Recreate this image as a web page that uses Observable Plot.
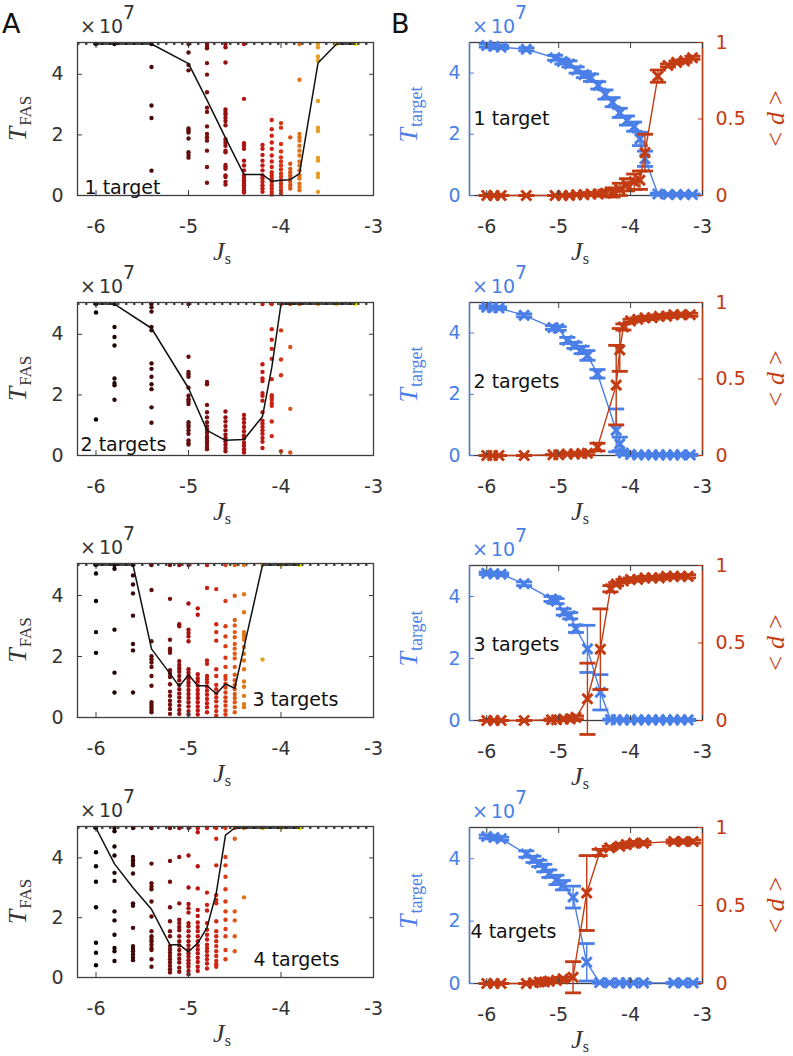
<!DOCTYPE html>
<html>
<head>
<meta charset="utf-8">
<script src="https://cdn.jsdelivr.net/npm/d3@7"></script>
<script src="https://cdn.jsdelivr.net/npm/@observablehq/plot@0.6"></script>
<style>
  html, body { margin: 0; padding: 0; background: #fff; }
  #fig { position: relative; width: 793px; height: 1056px; overflow: hidden; background: #fff; }
  #fig svg { position: absolute; overflow: visible; }
</style>
</head>
<body>
<div id="fig"></div>
<script>
// ---------------- DATA ----------------
const xTicks = [-6, -5, -4, -3];
const yTicks = [0, 2, 4];
const dTicks = [0, 0.5, 1];
const capT = 5; // simulation cap (x 10^7)

// Panel A, 1 target
const a1_J = [-6, -5.8, -5.4, -5, -4.8, -4.6, -4.4, -4.2, -4.1, -4.0, -3.9, -3.8, -3.6, -3.4, -3.2];
const a1_mean = [5, 5, 5, 4.35, 3.15, 1.9, 0.69, 0.69, 0.47, 0.5, 0.52, 0.72, 4.37, 5, 5];
const a1_dots = [
  [5], [5],
  [5, 4.24, 2.97, 2.56, 0.82],
  [5, 4.72, 4.31, 4.13, 2.21, 2.15, 2.08, 1.88, 1.43, 1.34, 1.25],
  [5, 4.91, 4.86, 4.37, 3.99, 3.41, 2.9, 2.76, 2.28, 2.03, 1.92, 1.81, 1.48, 0.94, 0.42],
  [5, 4.89, 4.39, 2.84, 2.76, 2.68, 2.57, 2.46, 2.32, 1.86, 1.75, 1.64, 1.48, 1.43, 1.01, 0.94, 0.88, 0.66, 0.61, 0.45, 0.36],
  [5, 3.19, 1.73, 1.64, 1.54, 1.15, 0.99, 0.83, 0.66, 0.58, 0.5, 0.42, 0.34, 0.25, 0.17, 0.1],
  [1.67, 1.54, 1.34, 1.15, 0.99, 0.83, 0.66, 0.56, 0.45, 0.34, 0.23, 0.12],
  [2.49, 2.19, 1.97, 1.75, 1.54, 1.32, 1.12, 0.94, 0.77, 0.66, 0.56, 0.45, 0.34, 0.23, 0.12, 0.03],
  [2.39, 2.24, 1.7, 1.45, 1.26, 1.12, 0.99, 0.86, 0.72, 0.61, 0.5, 0.39, 0.28, 0.17, 0.07],
  [1.92, 1.05, 0.88, 0.77, 0.66, 0.56, 0.45, 0.34, 0.23],
  [5, 3.82, 2.03, 1.92, 1.81, 1.64, 1.48, 1.32, 1.12, 0.99, 0.83, 0.66, 0.56, 0.39, 0.28, 0.17],
  [5, 4.89, 4.59, 4.46, 3.12, 2.24, 2.13, 1.24, 1.15, 0.72, 0.61, 0.12],
  [5], [5]
];

// Panel A, 2 targets
const a2_J = [-6, -5.8, -5.4, -5, -4.8, -4.6, -4.4, -4.2, -4.1, -4.0, -3.9, -3.8, -3.6, -3.4, -3.2];
const a2_mean = [5, 5, 4.2, 2.22, 0.83, 0.5, 0.53, 1.29, 2.9, 5, 5, 5, 5, 5, 5];
const a2_dots = [
  [5, 4.72, 1.19],
  [5, 4.24, 3.91, 3.63, 2.54, 2.39, 2.32, 1.84],
  [5, 4.89, 4.75, 4.24, 4.13, 3.04, 2.86, 2.6, 2.35, 2.19, 1.59, 1.08],
  [5, 3.26, 2.76, 2.68, 2.6, 2.24, 1.97, 1.86, 1.78, 1.7, 1.1, 1.01, 0.94, 0.83, 0.72, 0.5, 0.42, 0.36],
  [2.43, 2.35, 1.67, 1.43, 1.26, 1.1, 0.97, 0.86, 0.75, 0.64, 0.56, 0.47, 0.38, 0.28, 0.21],
  [1.45, 1.26, 1.12, 0.97, 0.83, 0.69, 0.58, 0.47, 0.36, 0.25, 0.14],
  [1.34, 1.21, 1.08, 0.94, 0.8, 0.66, 0.56, 0.42, 0.32, 0.21, 0.1],
  [5, 3.01, 2.76, 2.54, 2.46, 2.06, 1.97, 1.81, 1.43, 1.15, 1.05, 0.94, 0.83, 0.72, 0.58, 0.45, 0.25],
  [5, 4.17, 3.82, 3.52, 3.19, 2.52, 1.99, 1.92, 1.84, 1.73, 1.64, 1.12, 0.64],
  [5, 4.13, 3.17, 2.65, 0.14],
  [5, 3.58, 1.54, 0.1],
  [5], [5], [5], [5]
];

// Panel A, 3 targets
const a3_J = [-6, -5.8, -5.6, -5.4, -5.2, -5.1, -5.0, -4.9, -4.8, -4.7, -4.6, -4.5, -4.4, -4.2, -4.0, -3.8];
const a3_mean = [5, 5, 5, 2.25, 1.44, 1.02, 1.4, 1.04, 1.04, 0.78, 1.1, 0.96, 2.3, 5, 5, 5];
const a3_dots = [
  [5, 4.72, 3.82, 2.8, 2.12],
  [5, 4.88, 2.88, 1.47, 0.82],
  [5, 4.66, 4.36, 4.07, 3.34, 2.41, 2.2, 0.82],
  [5, 4.18, 2.5, 2.01, 1.9, 1.8, 1.66, 1.36, 1.04, 0.5, 0.42, 0.34, 0.25, 0.17],
  [5, 3.89, 2.55, 2.26, 2.2, 2.12, 1.55, 1.44, 1.33, 1.09, 0.85, 0.71, 0.55, 0.42, 0.28, 0.12],
  [5, 3.06, 2.99, 1.85, 1.72, 1.61, 1.5, 1.36, 1.22, 1.07, 0.93, 0.79, 0.66, 0.53, 0.39, 0.25, 0.12],
  [5, 3.74, 2.88, 2.77, 2.66, 2.5, 1.58, 1.47, 1.36, 1.26, 1.15, 1.04, 0.9, 0.77, 0.64, 0.5, 0.36, 0.21, 0.1],
  [3.58, 3.37, 1.42, 1.29, 1.18, 1.04, 0.9, 0.77, 0.64, 0.5, 0.36, 0.23, 0.1],
  [5, 4.25, 1.87, 1.76, 1.36, 1.26, 1.15, 1.01, 0.88, 0.75, 0.61, 0.47, 0.34, 0.17],
  [4.21, 3.06, 2.8, 2.52, 1.58, 1.36, 1.07, 0.93, 0.79, 0.66, 0.53, 0.36, 0.21, 0.06],
  [5, 3.82, 2.99, 2.66, 2.34, 1.96, 1.66, 1.36, 1.26, 1.11, 0.98, 0.82, 0.66, 0.53, 0.39, 0.23, 0.1],
  [5, 3.99, 3.2, 3.02, 2.8, 2.63, 2.41, 2.26, 2.09, 1.94, 1.66, 1.4, 1.22, 1.07, 0.93, 0.77, 0.64, 0.5, 0.34, 0.17],
  [5, 4.04, 3.45, 2.8, 2.74, 2.66, 2.55, 2.31, 2.09, 1.87, 1.58, 1.18, 1.01, 0.71, 0.44, 0.34],
  [5, 1.9],
  [5], [5]
];

// Panel A, 4 targets
const a4_J = [-6, -5.8, -5.6, -5.4, -5.2, -5.1, -5.0, -4.9, -4.8, -4.7, -4.6, -4.5, -4.4, -4.2, -4.0, -3.8];
const a4_mean = [5, 3.8, 3.0, 2.28, 1.09, 1.1, 0.86, 1.15, 1.67, 2.82, 4.76, 5, 5, 5, 5, 5];
const a4_dots = [
  [5, 4.19, 3.72, 3.2, 2.35, 1.16, 0.83, 0.41],
  [5, 4.89, 4.38, 4.08, 3.5, 3.23, 2.21, 1.91, 1.43, 0.99, 0.88, 0.55],
  [5, 4.03, 3.92, 3.83, 3.75, 3.48, 2.48, 2.4, 1.66, 1.05, 0.96, 0.88, 0.77, 0.66, 0.58],
  [5, 3.81, 3.15, 3.04, 2.95, 2.54, 2.04, 1.55, 1.38, 1.29, 1.21, 1.1, 0.99, 0.92, 0.61, 0.36],
  [5, 3.9, 3.2, 2.35, 1.88, 1.55, 1.38, 1.05, 0.94, 0.83, 0.72, 0.61, 0.5, 0.39, 0.28, 0.17],
  [5, 4.03, 2.48, 1.93, 1.82, 1.69, 1.58, 1.38, 1.21, 1.07, 0.92, 0.77, 0.63, 0.5, 0.33, 0.19],
  [5, 4.08, 3.01, 2.46, 2.32, 2.17, 1.82, 1.71, 1.55, 1.38, 1.21, 1.07, 0.94, 0.81, 0.7, 0.58, 0.47, 0.36, 0.22, 0.11],
  [5, 4.86, 3.72, 2.98, 2.26, 2.06, 1.84, 1.69, 1.55, 1.38, 1.21, 1.07, 0.94, 0.81, 0.66, 0.52, 0.36, 0.22],
  [5, 2.84, 2.43, 2.24, 1.82, 1.6, 1.43, 1.27, 1.1, 0.99, 0.88, 0.74, 0.61, 0.47, 0.3],
  [5, 4.64, 3.75, 2.76, 2.59, 2.48, 1.88, 1.55, 1.38, 1.21, 1.05, 0.88, 0.72, 0.55, 0.44, 0.36],
  [5, 4.03, 3.75, 3.37, 2.95, 2.54, 2.21, 1.93, 1.62, 1.38, 0.92, 0.61],
  [5, 4.64, 2.21, 1.91, 1.38, 0.88],
  [5, 2.68],
  [5], [5], [5]
];

// Panel B, 1 target : T_target (x 10^7) with error, <d> with error
const b1_J    = [-6, -5.9, -5.8, -5.45, -5.05, -4.95, -4.85, -4.75, -4.65, -4.55, -4.45, -4.35, -4.25, -4.15, -4.05, -3.95, -3.87, -3.8, -3.62, -3.48, -3.36, -3.25, -3.14];
const b1_T    = [4.9, 4.87, 4.85, 4.78, 4.5, 4.38, 4.3, 4.1, 3.95, 3.85, 3.6, 3.3, 3.05, 2.7, 2.45, 2.25, 1.85, 1.2, 0.05, 0.03, 0.03, 0.03, 0.03];
const b1_Terr = [0.05, 0.05, 0.05, 0.05, 0.08, 0.08, 0.1, 0.1, 0.1, 0.12, 0.12, 0.15, 0.15, 0.15, 0.15, 0.15, 0.22, 0.25, 0.03, 0.02, 0.02, 0.02, 0.02];
const b1_d    = [0, 0, 0, 0, 0, 0, 0, 0.005, 0.005, 0.01, 0.01, 0.015, 0.02, 0.04, 0.07, 0.09, 0.1, 0.28, 0.78, 0.85, 0.87, 0.88, 0.9];
const b1_derr = [0, 0, 0, 0, 0, 0, 0, 0.005, 0.005, 0.01, 0.01, 0.02, 0.03, 0.04, 0.04, 0.05, 0.06, 0.12, 0.04, 0.01, 0.01, 0.01, 0.01];

// Panel B, 2 targets
const b2_J    = [-6, -5.92, -5.83, -5.48, -5.08, -5.0, -4.88, -4.78, -4.68, -4.6, -4.46, -4.2, -4.15, -4.1, -4.0, -3.9, -3.8, -3.7, -3.6, -3.5, -3.4, -3.3, -3.17];
const b2_T    = [4.85, 4.83, 4.82, 4.58, 4.18, 4.15, 3.76, 3.6, 3.45, 3.27, 2.67, 0.82, 0.38, 0.08, 0.03, 0.02, 0.02, 0.02, 0.02, 0.02, 0.02, 0.02, 0.02];
const b2_Terr = [0.04, 0.04, 0.04, 0.05, 0.06, 0.06, 0.1, 0.1, 0.12, 0.16, 0.14, 0.7, 0.22, 0.05, 0.02, 0.02, 0.02, 0.02, 0.02, 0.02, 0.02, 0.02, 0.02];
const b2_d    = [0, 0, 0, 0, 0.005, 0.005, 0.01, 0.01, 0.012, 0.015, 0.055, 0.46, 0.69, 0.84, 0.88, 0.89, 0.9, 0.9, 0.91, 0.91, 0.92, 0.92, 0.92];
const b2_derr = [0, 0, 0, 0, 0, 0, 0.005, 0.005, 0.01, 0.01, 0.025, 0.26, 0.14, 0.02, 0.01, 0.01, 0.01, 0.01, 0.01, 0.01, 0.01, 0.01, 0.01];

// Panel B, 3 targets
const b3_J    = [-6, -5.9, -5.8, -5.48, -5.1, -5.03, -4.93, -4.84, -4.76, -4.6, -4.42, -4.28, -4.2, -4.1, -4.0, -3.9, -3.8, -3.7, -3.6, -3.5, -3.4, -3.3, -3.2];
const b3_T    = [4.75, 4.73, 4.72, 4.41, 3.92, 3.85, 3.5, 3.38, 2.96, 2.31, 0.91, 0.03, 0.02, 0.02, 0.02, 0.02, 0.02, 0.02, 0.02, 0.02, 0.02, 0.02, 0.02];
const b3_Terr = [0.04, 0.04, 0.04, 0.06, 0.08, 0.08, 0.1, 0.1, 0.12, 0.76, 0.57, 0.02, 0.02, 0.02, 0.02, 0.02, 0.02, 0.02, 0.02, 0.02, 0.02, 0.02, 0.02];
const b3_d    = [0, 0, 0, 0, 0.005, 0.005, 0.01, 0.01, 0.02, 0.14, 0.46, 0.85, 0.88, 0.9, 0.91, 0.91, 0.92, 0.92, 0.92, 0.93, 0.93, 0.93, 0.93];
const b3_derr = [0, 0, 0, 0, 0.005, 0.005, 0.01, 0.01, 0.01, 0.23, 0.26, 0.02, 0.01, 0.01, 0.01, 0.01, 0.01, 0.01, 0.01, 0.01, 0.01, 0.01, 0.01];

// Panel B, 4 targets
const b4_J    = [-6, -5.9, -5.8, -5.45, -5.35, -5.27, -5.2, -5.13, -5.03, -4.94, -4.8, -4.61, -4.43, -4.29, -4.15, -4.06, -3.96, -3.82, -3.4, -3.27, -3.13];
const b4_T    = [4.71, 4.68, 4.64, 4.15, 3.98, 3.85, 3.7, 3.52, 3.32, 3.15, 2.77, 0.68, 0.03, 0.02, 0.02, 0.02, 0.02, 0.02, 0.02, 0.02, 0.02];
const b4_Terr = [0.05, 0.05, 0.05, 0.1, 0.1, 0.1, 0.12, 0.12, 0.15, 0.15, 0.35, 0.6, 0.02, 0.02, 0.02, 0.02, 0.02, 0.02, 0.02, 0.02, 0.02];
const b4_d    = [0, 0, 0, 0, 0.005, 0.01, 0.01, 0.015, 0.02, 0.03, 0.04, 0.58, 0.84, 0.87, 0.88, 0.89, 0.9, 0.9, 0.91, 0.91, 0.91];
const b4_derr = [0, 0, 0, 0, 0.005, 0.005, 0.01, 0.01, 0.01, 0.01, 0.1, 0.24, 0.02, 0.01, 0.01, 0.01, 0.01, 0.01, 0.01, 0.01, 0.01];

const labelsA = ["1 target", "2 targets", "3 targets", "4 targets"];

// ---------------- STYLE / LAYOUT ----------------
const SANS = '"DejaVu Sans", "Liberation Sans", Arial, sans-serif';
const SERIF = '"Liberation Serif", "DejaVu Serif", serif';
const BLUE = "#4a7fe8", RED = "#c23b12", AX = "#3d3d3d", TXT = "#333333";
const xDomA = [-6.2, -3], xDomB = [-6.24, -3];
const heatStops = [0, 0.2, 0.45, 0.62, 0.8, 0.9, 1];
const heatColors = ["#000000", "#5a0e0e", "#b81212", "#d42a14", "#e07818", "#eab82a", "#fafa00"];

const fig = document.getElementById("fig");
const hbar = { draw(ctx, size) { const r = Math.sqrt(size / Math.PI); ctx.moveTo(-r, 0); ctx.lineTo(r, 0); } };

function place(svg, left, top) {
  svg.style.left = left + "px"; svg.style.top = top + "px";
  fig.appendChild(svg);
}
function mathText(svg, {x, y, rotate = 0, anchor = "middle", color, parts}) {
  const t = d3.select(svg).append("text")
    .attr("transform", `translate(${x},${y}) rotate(${rotate})`)
    .attr("text-anchor", anchor).attr("fill", color);
  for (const p of parts) {
    const s = t.append("tspan").text(p.text)
      .attr("font-family", p.font || SERIF)
      .attr("font-size", p.size)
      .attr("font-style", p.italic ? "italic" : "normal");
    if (p.dy) s.attr("dy", p.dy);
    if (p.dx) s.attr("dx", p.dx);
  }
  return t;
}
function expLabel(svg, x, y, color) {
  mathText(svg, {x, y, anchor: "start", color, parts: [
    {text: "×", size: 19, font: SANS},
    {text: "10", size: 19, font: SANS, dx: 3},
    {text: "7", size: 19, font: SANS, dy: -14}
  ]});
}

const MT = 42, MB = 84;
const rowsA = [[42, 195], [302, 455], [563, 717], [826, 977]];
const rowsB = [[42, 195], [302, 455], [565, 720], [827, 983]];
const labPosA = [
  {anchor: "bottom-left", dx: 7, dy: -1.5},
  {anchor: "bottom-left", dx: 3, dy: -4.5},
  {anchor: "bottom-left", dx: 175, dy: -11.5},
  {anchor: "bottom-left", dx: 176, dy: -11.5}
];
const labPosB = [
  {dx: 4, dy: 0}, {dx: 4, dy: 2.5}, {dx: 4, dy: 1.5}, {dx: 1, dy: 26}
];
const JS_OFF = 65;

// ---------------- PANEL A ----------------
const dataA = [[a1_J, a1_dots, a1_mean], [a2_J, a2_dots, a2_mean], [a3_J, a3_dots, a3_mean], [a4_J, a4_dots, a4_mean]];
dataA.forEach(([J, dots, mean], k) => {
  const [top, bottom] = rowsA[k];
  const n = J.length;
  const pts = [];
  J.forEach((j, i) => dots[i].forEach(v => pts.push({J: j, T: v, t: i / (n - 1)})));
  const meanData = J.map((j, i) => ({J: j, T: mean[i]}));
  const lp = labPosA[k];
  const svg = Plot.plot({
    width: 400, height: MT + (bottom - top) + MB,
    marginLeft: 77, marginRight: 27, marginTop: MT, marginBottom: MB,
    style: {fontFamily: SANS, fontSize: "19px", color: TXT, background: "transparent", overflow: "visible"},
    x: {domain: xDomA},
    y: {domain: [0, 5.05]},
    color: {type: "linear", domain: heatStops, range: heatColors},
    marks: [
      Plot.ruleY([capT], {stroke: "#111", strokeDasharray: "2.5,5.5", strokeWidth: 1.4}),
      Plot.dot(pts, {x: "J", y: "T", fill: "t", r: 2.2}),
      Plot.line(meanData, {x: "J", y: "T", stroke: "#111", strokeWidth: 1.5}),
      Plot.frame({stroke: AX, strokeWidth: 1.3}),
      Plot.axisX(xTicks, {anchor: "bottom", tickSize: -5, tickPadding: 29, tickFormat: d => String(d), label: null, color: TXT, stroke: AX}),
      Plot.axisX(xTicks, {anchor: "top", tickSize: -5, tickFormat: () => "", label: null, stroke: AX}),
      Plot.axisY(yTicks, {anchor: "left", tickSize: -5, tickPadding: 19, tickFormat: d => String(d), label: null, color: TXT, stroke: AX}),
      Plot.axisY(yTicks, {anchor: "right", tickSize: -5, tickFormat: () => "", label: null, stroke: AX}),
      Plot.text([labelsA[k]], {frameAnchor: lp.anchor, textAnchor: "start", lineAnchor: "bottom", dx: lp.dx, dy: lp.dy, fill: "#111", fontSize: 19})
    ]
  });
  place(svg, 0, top - MT);
  const H = bottom - top;
  expLabel(svg, 80, MT - 9, TXT);
  mathText(svg, {x: 26, y: MT + H / 2, rotate: -90, color: TXT, parts: [
    {text: "T", italic: true, size: 26},
    {text: "FAS", size: 17, dy: 5, dx: 1}
  ]});
  mathText(svg, {x: 222, y: MT + H + JS_OFF, color: TXT, parts: [
    {text: "J", italic: true, size: 26},
    {text: "s", size: 16, dy: 4}
  ]});
});

// ---------------- PANEL B ----------------
const dataB = [
  [b1_J, b1_T, b1_Terr, b1_d, b1_derr],
  [b2_J, b2_T, b2_Terr, b2_d, b2_derr],
  [b3_J, b3_T, b3_Terr, b3_d, b3_derr],
  [b4_J, b4_T, b4_Terr, b4_d, b4_derr]
];
const dScale = 5; // right axis [0,1] shares the left axis range [0,5]
dataB.forEach(([J, T, Terr, d, derr], k) => {
  const [top, bottom] = rowsB[k];
  const rows = J.map((j, i) => ({
    J: j, T: T[i], Tlo: T[i] - Terr[i], Thi: T[i] + Terr[i],
    D: d[i] * dScale, Dlo: (d[i] - derr[i]) * dScale, Dhi: (d[i] + derr[i]) * dScale
  }));
  const lp = labPosB[k];
  const series = (y, lo, hi, c) => [
    Plot.ruleX(rows, {x: "J", y1: lo, y2: hi, stroke: c, strokeWidth: 1.4}),
    Plot.dot(rows, {x: "J", y: lo, symbol: hbar, r: 8, stroke: c, fill: "none", strokeWidth: 2.8}),
    Plot.dot(rows, {x: "J", y: hi, symbol: hbar, r: 8, stroke: c, fill: "none", strokeWidth: 2.8}),
    Plot.line(rows, {x: "J", y, stroke: c, strokeWidth: 1.4}),
    Plot.dot(rows, {x: "J", y, symbol: "times", r: 4.6, stroke: c, strokeWidth: 3})
  ];
  const svg = Plot.plot({
    width: 403, height: MT + (bottom - top) + MB,
    marginLeft: 79, marginRight: 91, marginTop: MT, marginBottom: MB,
    style: {fontFamily: SANS, fontSize: "19px", color: TXT, background: "transparent", overflow: "visible"},
    x: {domain: xDomB},
    y: {domain: [0, 5]},
    marks: [
      Plot.frame({stroke: AX, strokeWidth: 1.3}),
      Plot.ruleX([xDomB[0]], {stroke: BLUE, strokeWidth: 1.4}),
      Plot.ruleX([xDomB[1]], {stroke: RED, strokeWidth: 1.4}),
      ...series("T", "Tlo", "Thi", BLUE),
      ...series("D", "Dlo", "Dhi", RED),
      Plot.axisX(xTicks, {anchor: "bottom", tickSize: -5, tickPadding: 29, tickFormat: d => String(d), label: null, color: TXT, stroke: AX}),
      Plot.axisX(xTicks, {anchor: "top", tickSize: -5, tickFormat: () => "", label: null, stroke: AX}),
      Plot.axisY(yTicks, {anchor: "left", tickSize: -5, tickPadding: 14, tickFormat: d => String(d), label: null, color: BLUE, stroke: BLUE}),
      Plot.axisY(dTicks.map(v => v * dScale), {anchor: "right", tickSize: -5, tickPadding: 18, tickFormat: v => String(v / dScale), label: null, color: RED, stroke: RED}),
      Plot.text([labelsA[k]], {frameAnchor: "left", textAnchor: "start", dx: lp.dx, dy: lp.dy, fill: "#111", fontSize: 19})
    ]
  });
  place(svg, 390, top - MT);
  const H = bottom - top;
  expLabel(svg, 82, MT - 9, BLUE);
  mathText(svg, {x: 27, y: MT + H / 2 - 4, rotate: -90, color: BLUE, parts: [
    {text: "T", italic: true, size: 26},
    {text: "target", size: 18, dy: 5, dx: 1}
  ]});
  mathText(svg, {x: 394, y: MT + H / 2, rotate: -90, color: RED, parts: [
    {text: "<", size: 26},
    {text: "d", italic: true, size: 26, dx: 7},
    {text: ">", size: 26, dx: 7}
  ]});
  mathText(svg, {x: 190, y: MT + H + JS_OFF, color: TXT, parts: [
    {text: "J", italic: true, size: 26},
    {text: "s", size: 16, dy: 4}
  ]});
});

// panel letters
const ov = d3.select(fig).append("svg").attr("width", 793).attr("height", 60).style("left", "0px").style("top", "0px");
ov.append("text").attr("x", 2).attr("y", 33).attr("font-family", SANS).attr("font-size", 27).attr("fill", "#111").text("A");
ov.append("text").attr("x", 391).attr("y", 33).attr("font-family", SANS).attr("font-size", 27).attr("fill", "#111").text("B");
</script>
</body>
</html>
